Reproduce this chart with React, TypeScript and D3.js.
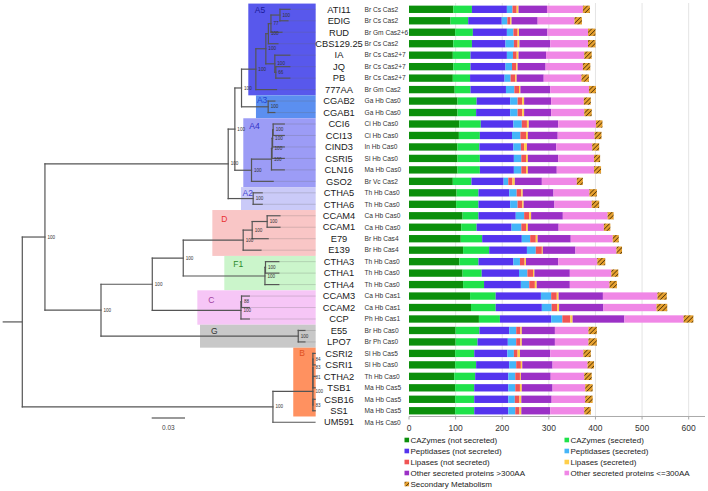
import React from "react";
import * as d3 from "d3";

// ---------------- DATA ----------------
const strains = [
  "ATI11", "EDIG", "RUD", "CBS129.25", "IA", "JQ", "PB", "777AA", "CGAB2", "CGAB1",
  "CCI6", "CCI13", "CIND3", "CSRI5", "CLN16", "GSO2", "CTHA5", "CTHA6", "CCAM4", "CCAM1",
  "E79", "E139", "CTHA3", "CTHA1", "CTHA4", "CCAM3", "CCAM2", "CCP", "E55", "LPO7",
  "CSRI2", "CSRI1", "CTHA2", "TSB1", "CSB16", "SS1", "UM591",
];

const strainInfo = [
  "Br Cs Cas2", "Br Cs Cas2", "Br Gm Cas2+6", "Br Cs Cas2", "Br Cs Cas2+7", "Br Cs Cas2+7", "Br Cs Cas2+7", "Br Gm Cas2", "Ga Hb Cas0", "Ga Hb Cas0",
  "Ci Hb Cas0", "Ci Hb Cas0", "In Hb Cas0", "Sl Hb Cas0", "Ma Hb Cas0", "Br Vc Cas2", "Th Hb Cas0", "Th Hb Cas0", "Ca Hb Cas0", "Ca Hb Cas0",
  "Br Hb Cas4", "Br Hb Cas4", "Th Hb Cas0", "Th Hb Cas0", "Th Hb Cas0", "Ca Hb Cas1", "Ca Hb Cas1", "Ph Hb Cas1", "Br Hb Cas0", "Br Ph Cas0",
  "Sl Hb Cas5", "Sl Hb Cas0", "Th Hb Cas0", "Ma Hb Cas5", "Ma Hb Cas5", "Ma Hb Cas5", "Ma Hs Cas0",
];

const cazymesNotSecreted = [95, 89, 99, 95, 94, 95, 94, 98, 104, 104, 108, 107, 104, 104, 104, 94, 102, 101, 115, 112, 111, 116, 108, 115, 116, 131, 133, 150, 100, 100, 99, 99, 97, 99, 99, 99, 0];
const cazymesSecreted = [40, 38, 38, 40, 38, 37, 37, 34, 41, 40, 46, 45, 47, 48, 48, 40, 47, 48, 34, 33, 46, 56, 41, 41, 45, 55, 53, 45, 51, 47, 41, 45, 45, 41, 41, 41, 0];
const peptidasesNotSecreted = [75, 72, 73, 72, 78, 75, 74, 76, 72, 73, 70, 69, 73, 73, 73, 69, 66, 68, 80, 75, 85, 81, 75, 80, 79, 97, 99, 110, 64, 65, 71, 71, 71, 73, 73, 73, 0];
const peptidasesSecreted = [12, 12, 14, 18, 13, 14, 13, 18, 16, 16, 18, 18, 16, 16, 16, 10, 16, 16, 18, 21, 18, 19, 14, 18, 18, 22, 21, 24, 15, 18, 14, 15, 15, 15, 14, 15, 0];
const lipasesNotSecreted = [9, 6, 9, 8, 8, 9, 10, 10, 10, 10, 11, 12, 7, 10, 10, 9, 10, 10, 11, 10, 12, 13, 10, 12, 12, 12, 12, 17, 9, 9, 8, 10, 10, 10, 10, 9, 0];
const lipasesSecreted = [4, 3, 3, 4, 4, 3, 3, 3, 4, 4, 4, 4, 6, 4, 4, 5, 3, 3, 4, 4, 4, 2, 3, 3, 4, 4, 4, 5, 3, 3, 5, 3, 2, 4, 4, 4, 0];
const otherSecretedLong = [61, 56, 61, 66, 59, 60, 58, 64, 58, 58, 63, 64, 63, 65, 62, 58, 66, 66, 68, 66, 71, 70, 69, 76, 71, 95, 95, 111, 71, 71, 65, 65, 64, 66, 65, 62, 0];
const otherSecretedShort = [77, 79, 87, 81, 82, 80, 81, 83, 70, 71, 81, 79, 77, 77, 80, 75, 77, 80, 96, 97, 90, 88, 84, 89, 85, 117, 114, 127, 72, 72, 71, 75, 72, 70, 72, 73, 0];
const secondaryMetabolism = [15, 16, 16, 16, 16, 16, 16, 15, 15, 16, 14, 15, 15, 13, 15, 13, 16, 16, 13, 14, 13, 12, 17, 15, 16, 20, 23, 21, 18, 18, 16, 14, 16, 16, 16, 14, 0];

const seriesLabels = [
  "CAZymes (not secreted)", "CAZymes (secreted)",
  "Peptidases (not secreted)", "Peptidases (secreted)",
  "Lipases (not secreted)", "Lipases (secreted)",
  "Other secreted proteins >300AA", "Other secreted proteins <=300AA",
  "Secondary Metabolism",
];

const xTicks = [0, 100, 200, 300, 400, 500, 600];

// tree: [node, parent, branch length (subst./site), bootstrap]
const treeEdges: [string, string | null, number, string][] = [
  ["root", null, 0, ""],
  ["N45", "root", 0.0204, "100"],
  ["X10", "N45", 0.1651, "100"],
  ["X9", "X10", 0.006, "100"],
  ["X8", "X9", 0.006, "100"],
  ["X7", "X8", 0.0129, "100"],
  ["X4", "X7", 0.009, "100"],
  ["X3", "X4", 0.0023, "100"],
  ["X2", "X3", 0.0023, "77"],
  ["X1", "X2", 0.0081, "100"],
  ["ATI11", "X1", 0.009, ""],
  ["EDIG", "X1", 0.0072, ""],
  ["RUD", "X2", 0.0099, ""],
  ["CBS129.25", "X3", 0.0086, ""],
  ["X5", "X4", 0.0081, "100"],
  ["IA", "X5", 0.0135, ""],
  ["X6", "X5", 0.0009, "66"],
  ["JQ", "X6", 0.0126, ""],
  ["PB", "X6", 0.0126, ""],
  ["777AA", "X7", 0.0186, ""],
  ["A3", "X8", 0.024, "100"],
  ["CGAB2", "A3", 0.006, ""],
  ["CGAB1", "A3", 0.006, ""],
  ["A4", "X9", 0.015, "100"],
  ["C4", "A4", 0.018, "100"],
  ["C3", "C4", 0.0005, "100"],
  ["C2", "C3", 0.0005, "100"],
  ["C1", "C2", 0.0005, "100"],
  ["CCI6", "C1", 0.01, ""],
  ["CCI13", "C1", 0.01, ""],
  ["CIND3", "C2", 0.0105, ""],
  ["CSRI5", "C3", 0.011, ""],
  ["CLN16", "C4", 0.0115, ""],
  ["GSO2", "A4", 0.0195, ""],
  ["A2", "X10", 0.0225, "100"],
  ["CTHA5", "A2", 0.0081, ""],
  ["CTHA6", "A2", 0.0081, ""],
  ["N101", "N45", 0.0505, "100"],
  ["N152", "N101", 0.0462, "100"],
  ["N183", "N152", 0.0279, "100"],
  ["D", "N183", 0.054, "100"],
  ["D2", "D", 0.0081, "100"],
  ["D3", "D2", 0.0135, "100"],
  ["CCAM4", "D3", 0.0115, ""],
  ["CCAM1", "D3", 0.0115, ""],
  ["E79", "D2", 0.0144, ""],
  ["E139", "D", 0.016, ""],
  ["F1", "N183", 0.0736, "100"],
  ["F1a", "F1", 0.0005, "100"],
  ["CTHA3", "F1a", 0.012, ""],
  ["CTHA1", "F1a", 0.012, ""],
  ["CTHA4", "F1", 0.0125, ""],
  ["C", "N152", 0.0799, "100"],
  ["Ca", "C", 0.0005, "88"],
  ["CCAM3", "Ca", 0.007, ""],
  ["CCAM2", "Ca", 0.007, ""],
  ["CCP", "C", 0.0075, ""],
  ["G", "N101", 0.1777, "100"],
  ["E55", "G", 0.006, ""],
  ["LPO7", "G", 0.006, ""],
  ["N273", "root", 0.2258, "100"],
  ["B", "N273", 0.036, "100"],
  ["B3", "B", 0, "81"],
  ["B2", "B3", 0, "83"],
  ["B1", "B2", 0, "84"],
  ["CSRI2", "B1", 0.002, ""],
  ["CSRI1", "B1", 0.002, ""],
  ["CTHA2", "B2", 0.002, ""],
  ["TSB1", "B3", 0.002, ""],
  ["B4", "B", 0, "83"],
  ["CSB16", "B4", 0.002, ""],
  ["SS1", "B4", 0.002, ""],
  ["UM591", "N273", 0.0378, ""],
];

// clades: [label, first strain, last strain, start (distance from root)]
const clades: [string, string, string, number][] = [
  ["A5", "ATI11", "777AA", 0.2036],
  ["A3", "CGAB2", "CGAB1", 0.2105],
  ["A4", "CCI6", "GSO2", 0.1991],
  ["A2", "CTHA5", "CTHA6", 0.197],
  ["D", "CCAM4", "E139", 0.1712],
  ["F1", "CTHA3", "CTHA4", 0.182],
  ["C", "CCAM3", "CCP", 0.1577],
  ["G", "E55", "LPO7", 0.1601],
  ["B", "CSRI2", "SS1", 0.2441],
];
const tipAlign = 0.2643;
const rootStub = 0.0177;
const scaleBarValue = 0.03;

// ---------------- STYLES ----------------
const W = 708;
const H = 491;
const FONT = "'Liberation Sans', Arial, Helvetica, sans-serif";
const barColors = ["#0b8f0b", "#1fe24a", "#5434ee", "#45b5f8", "#f05454", "#ffcf4a", "#9b30c6", "#f087e6", "url(#hatch)"];
const cladeFill: Record<string, string> = {
  A5: "#5858ec", A3: "#5b8ff0", A4: "#9c9cf6", A2: "#cacaf8", D: "#f9c6c6",
  F1: "#cbf5cb", C: "#f6c6f6", G: "#c8c8c8", B: "#ff9160",
};
const cladeText: Record<string, string> = {
  A5: "#1c1c9a", A3: "#2244d0", A4: "#3030c8", A2: "#4545d0", D: "#e83030",
  F1: "#2a8a2a", C: "#a040a0", G: "#333333", B: "#e05020",
};
const cladeLabelOffset: Record<string, [number, number]> = {
  A5: [6.5, 6], A3: [1, 5], A4: [6, 7.5], A2: [1.5, 5.5], D: [9, 9],
  F1: [9, 8], C: [11, 10], G: [11, 6], B: [6, 5],
};

export default function App() {
  const series = [
    cazymesNotSecreted, cazymesSecreted, peptidasesNotSecreted, peptidasesSecreted,
    lipasesNotSecreted, lipasesSecreted, otherSecretedLong, otherSecretedShort, secondaryMetabolism,
  ];
  const keys = series.map((_, i) => "s" + i);
  const table = strains.map((s, i) => {
    const row: any = { strain: s };
    series.forEach((arr, k) => (row[keys[k]] = arr[i]));
    return row;
  });
  const stacked = d3.stack<any>().keys(keys)(table);

  const y = d3.scaleBand<string>().domain(strains).range([3.57, 427.96]).paddingInner(0.36).paddingOuter(0.18);
  const step = y.step();
  const rowC = (s: string) => (y(s) as number) + y.bandwidth() / 2;
  const x = d3.scaleLinear().domain([0, 635]).range([409, 705]);
  const tx = d3.scaleLinear().domain([0, scaleBarValue]).range([22.3, 22.3 + 33.3]);
  const axisY = rowC("SS1") + step / 2;

  // tree layout
  const root = d3
    .stratify<[string, string | null, number, string]>()
    .id((d) => d[0])
    .parentId((d) => d[1])(treeEdges);
  const pos = new Map<string, { x: number; y: number }>();
  const dist = new Map<string, number>();
  root.eachBefore((n: any) => {
    dist.set(n.id, n.parent ? (dist.get(n.parent.id) as number) + n.data[2] : 0);
  });
  root.eachAfter((n: any) => {
    let yy: number;
    if (!n.children) yy = rowC(n.id);
    else {
      const ys = n.children.map((c: any) => pos.get(c.id)!.y);
      yy = (d3.min(ys)! + d3.max(ys)!) / 2;
    }
    pos.set(n.id, { x: tx(dist.get(n.id)!), y: yy });
  });
  const nodes = root.descendants();

  const treeStroke = "#555";

  return (
    <svg width={W} height={H} style={{ position: "absolute", left: 0, top: 0, background: "#fff" }} fontFamily={FONT}>
      <defs>
        <pattern id="hatch" patternUnits="userSpaceOnUse" width={3.2} height={3.2} patternTransform="rotate(45)">
          <rect width={3.2} height={3.2} fill="#e6a030" />
          <line x1={0} y1={0} x2={0} y2={3.2} stroke="#3a2400" strokeWidth={1.3} />
        </pattern>
      </defs>

      {/* clade boxes */}
      {clades.map(([name, a, b, from]) => {
        const top = rowC(a) - step / 2;
        const bottom = rowC(b) + step / 2;
        const x0 = tx(from);
        const [dx, dy] = cladeLabelOffset[name];
        return (
          <g key={name}>
            <rect x={x0} y={top} width={tx(tipAlign) - x0} height={bottom - top} fill={cladeFill[name]} />
            <text x={x0 + dx} y={top + dy} dy="0.35em" fontSize={8.5} fill={cladeText[name]}>{name}</text>
          </g>
        );
      })}

      {/* tip alignment lines */}
      {nodes.filter((n: any) => !n.children).map((n: any) => {
        const p = pos.get(n.id)!;
        return <line key={"al" + n.id} x1={p.x} x2={tx(tipAlign)} y1={p.y} y2={p.y} stroke="#666" strokeOpacity={0.35} strokeWidth={0.7} />;
      })}

      {/* tree branches */}
      {nodes.map((n: any) => {
        const p = pos.get(n.id)!;
        const parts: any[] = [];
        if (n.parent) {
          const pp = pos.get(n.parent.id)!;
          parts.push(<line key={"h" + n.id} x1={pp.x} x2={p.x} y1={p.y} y2={p.y} stroke={treeStroke} strokeWidth={1.2} strokeLinecap="square" />);
        } else {
          parts.push(<line key="stub" x1={tx(-rootStub)} x2={p.x} y1={p.y} y2={p.y} stroke={treeStroke} strokeWidth={1.2} />);
        }
        if (n.children) {
          const ys = n.children.map((c: any) => pos.get(c.id)!.y);
          parts.push(<line key={"v" + n.id} x1={p.x} x2={p.x} y1={d3.min(ys)} y2={d3.max(ys)} stroke={treeStroke} strokeWidth={1.2} strokeLinecap="square" />);
        }
        return <g key={"n" + n.id}>{parts}</g>;
      })}

      {/* bootstrap values */}
      {nodes.filter((n: any) => n.children && n.data[3]).map((n: any) => {
        const p = pos.get(n.id)!;
        return <text key={"bs" + n.id} x={p.x + 2.5} y={p.y} dy="0.35em" fontSize={4.6} fill="#333">{n.data[3]}</text>;
      })}

      {/* scale bar */}
      <line x1={151.7} x2={151.7 + tx(scaleBarValue) - tx(0)} y1={418} y2={418} stroke="#777" strokeWidth={1.5} />
      <text x={151.7 + (tx(scaleBarValue) - tx(0)) / 2} y={428} dy="0.35em" textAnchor="middle" fontSize={6.5} fill="#444">{String(scaleBarValue)}</text>

      {/* strain names and info */}
      {strains.map((s, i) => (
        <g key={"lab" + s}>
          <text x={339} y={rowC(s)} dy="0.35em" textAnchor="middle" fontSize={9.3} fill="#1a1a1a">{s}</text>
          <text x={364.5} y={rowC(s)} dy="0.35em" fontSize={6.6} fill="#333">{strainInfo[i]}</text>
        </g>
      ))}

      {/* gridlines */}
      {xTicks.filter((t) => t > 0).map((t) => (
        <line key={"g" + t} x1={x(t)} x2={x(t)} y1={3} y2={axisY} stroke="#e4e4e4" strokeWidth={1} />
      ))}

      {/* bars */}
      {stacked.map((layer, k) => (
        <g key={"layer" + k} fill={barColors[k]}>
          {layer.map((d, i) =>
            d[1] - d[0] > 0 ? (
              <rect key={i} x={x(d[0])} y={y(strains[i])} width={x(d[1]) - x(d[0])} height={y.bandwidth()} />
            ) : null
          )}
        </g>
      ))}

      {/* x axis */}
      <line x1={x.range()[0]} x2={x.range()[1]} y1={axisY} y2={axisY} stroke="#aaa" strokeWidth={1} />
      {xTicks.map((t) => (
        <g key={"t" + t}>
          <line x1={x(t)} x2={x(t)} y1={axisY} y2={axisY + 3} stroke="#aaa" strokeWidth={1} />
          <text x={x(t)} y={axisY + 11.5} dy="0.35em" textAnchor="middle" fontSize={8.5} fill="#333">{t}</text>
        </g>
      ))}

      {/* legend */}
      {seriesLabels.map((lab, i) => {
        const cx = [404.5, 564.5][i % 2];
        const cy = 440 + Math.floor(i / 2) * 11;
        return (
          <g key={"leg" + i}>
            <rect x={cx} y={cy - 2.3} width={4.6} height={4.6} fill={barColors[i]} />
            <text x={cx + 6} y={cy} dy="0.35em" fontSize={8} fill="#222">{lab}</text>
          </g>
        );
      })}
    </svg>
  );
}
